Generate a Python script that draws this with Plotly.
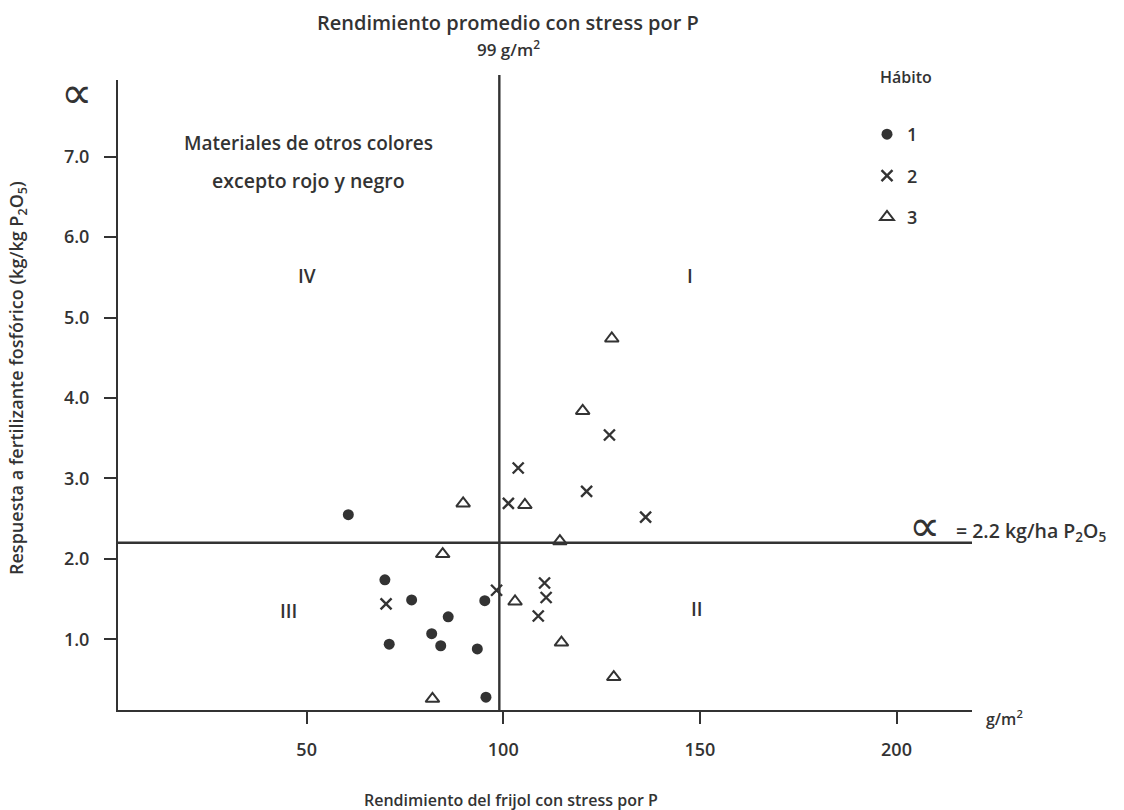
import plotly.graph_objects as go

# Rendimiento con stress por P (g/m2) y respuesta a P2O5 (kg/kg) por hábito
habito1_x = [60.6, 69.9, 76.7, 95.3, 86.0, 81.8, 71.0, 84.1, 93.4, 95.6]
habito1_y = [2.55, 1.74, 1.49, 1.48, 1.28, 1.07, 0.94, 0.92, 0.88, 0.28]

habito2_x = [70.2, 98.3, 101.3, 103.8, 121.2, 127.0, 136.2, 110.5, 110.9, 108.9]
habito2_y = [1.44, 1.61, 2.69, 3.13, 2.84, 3.54, 2.52, 1.70, 1.52, 1.29]

habito3_x = [89.8, 105.5, 84.6, 103.0, 82.0, 114.4, 114.8, 128.1, 127.6, 120.2]
habito3_y = [2.69, 2.67, 2.06, 1.47, 0.26, 2.22, 0.96, 0.53, 4.74, 3.84]

rendimiento_promedio = 99      # g/m2
respuesta_limite = 2.2         # kg/ha P2O5

x_ticks = [50, 100, 150, 200]
y_ticks = [1.0, 2.0, 3.0, 4.0, 5.0, 6.0, 7.0]

INK = "#333333"
FONT = "Open Sans"
W = 600

# plot area in pixels
L, R, T, B = 118, 972, 80, 710
PW, PH = R - L, B - T


def px(x):
    return (x - L) / PW


def py(y):
    return (B - y) / PH


def label(text, x, y, size, xref="paper", yref="paper", family=FONT, weight=W, **kw):
    return dict(text=text, x=x, y=y, xref=xref, yref=yref, showarrow=False,
                xanchor=kw.pop("xanchor", "center"), yanchor=kw.pop("yanchor", "middle"),
                font=dict(family=family, size=size, color=INK, weight=weight), **kw)


fig = go.Figure()

fig.add_trace(go.Scatter(
    x=habito1_x, y=habito1_y, mode="markers", name="1", legendgroup="g1",
    marker=dict(symbol="circle", size=11, color=INK),
))
fig.add_trace(go.Scatter(
    x=habito2_x, y=habito2_y, mode="markers", name="2", legendgroup="g2",
    marker=dict(symbol="x-thin", size=11, color=INK,
                line=dict(width=2.4, color=INK)),
))
fig.add_trace(go.Scatter(
    x=habito3_x, y=habito3_y, mode="markers", name="3", legendgroup="g3",
    marker=dict(symbol="triangle-up-open", size=12, color=INK,
                line=dict(width=2, color=INK)),
))

# quadrant division lines
fig.add_shape(type="line", xref="x", yref="paper",
              x0=rendimiento_promedio, x1=rendimiento_promedio, y0=0, y1=py(75),
              line=dict(color=INK, width=2.4), layer="below")
fig.add_shape(type="line", xref="paper", yref="y",
              x0=0, x1=1.0, y0=respuesta_limite, y1=respuesta_limite,
              line=dict(color=INK, width=2.4), layer="below")

annotations = [
    label("Rendimiento promedio con stress por P", px(508), py(22), 20),
    label(f"{rendimiento_promedio} g/m<sup>2</sup>", px(508), py(49), 17),
    label("Hábito", px(906), py(77), 16),
    label("Materiales de otros colores", 50.5, 7.17, 19, xref="x", yref="y"),
    label("excepto rojo y negro", 50.5, 6.70, 19.5, xref="x", yref="y"),
    label("IV", 50.1, 5.52, 19, xref="x", yref="y"),
    label("I", 147.5, 5.52, 19, xref="x", yref="y"),
    label("III", 45.5, 1.35, 19, xref="x", yref="y"),
    label("II", 149.2, 1.38, 19, xref="x", yref="y"),
    label("g/m<sup>2</sup>", px(984), py(718), 16, xanchor="left"),
    label("∝", px(924), respuesta_limite, 44, yref="y", yshift=17,
          family="DejaVu Sans", weight=300),
    label(f"= {respuesta_limite} kg/ha P<sub>2</sub>O<sub>5</sub>", px(954), respuesta_limite, 19.5,
          yref="y", xanchor="left", yshift=11),
    label("∝", px(76), py(92), 44, family="DejaVu Sans", weight=300),
    label("Respuesta a fertilizante fosfórico (kg/kg P<sub>2</sub>O<sub>5</sub>)",
          px(17), py(378), 18, textangle=-90),
    label("Rendimiento del frijol con stress por P", px(511), py(800), 16),
]

fig.update_layout(
    width=1124, height=810,
    margin=dict(l=L, r=1124 - R, t=T, b=810 - B, pad=0),
    paper_bgcolor="white", plot_bgcolor="white",
    font=dict(family=FONT, size=17, color=INK, weight=W),
    annotations=annotations,
    showlegend=True,
    legend=dict(x=px(867), y=py(116), xanchor="left", yanchor="top",
                bgcolor="rgba(0,0,0,0)",
                font=dict(family=FONT, size=18, color=INK, weight=W),
                tracegroupgap=15, itemwidth=30),
    xaxis=dict(range=[2.03, 219.2], tickvals=x_ticks, ticktext=[str(v) for v in x_ticks],
               showgrid=False, zeroline=False, showline=True, linecolor=INK, linewidth=2,
               ticks="outside", ticklen=12, tickwidth=1.6, tickcolor=INK,
               ticklabelstandoff=10,
               tickfont=dict(family=FONT, size=18, color=INK, weight=W)),
    yaxis=dict(range=[0.121, 7.954], tickvals=y_ticks, ticktext=[f"{v:.1f}" for v in y_ticks],
               showgrid=False, zeroline=False, showline=True, linecolor=INK, linewidth=2,
               ticks="outside", ticklen=12, tickwidth=1.6, tickcolor=INK,
               ticklabelstandoff=11,
               tickfont=dict(family=FONT, size=18, color=INK, weight=W)),
)

fig.write_html("out.html")
